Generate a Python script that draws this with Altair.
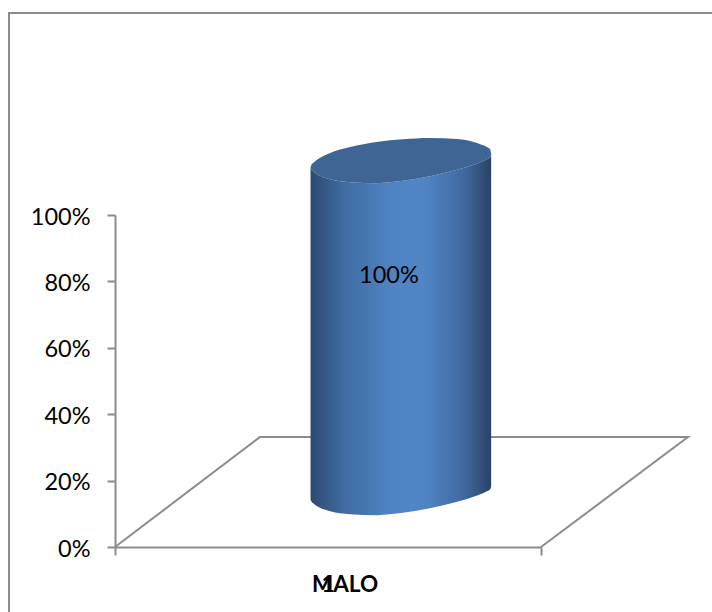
import altair as alt
import pandas as pd

# Chart content
category = "MALO"
series_index = "1"
value = 1.0
y_ticks = [0, 0.2, 0.4, 0.6, 0.8, 1.0]

# Cylinder outline in axis units: horizontal position, front rim and back rim
# of the base ellipse. The top ellipse is the base raised by the value.
rim_x = [0.459, 0.4615, 0.4665, 0.4735, 0.505, 0.552, 0.614, 0.676, 0.739, 0.803, 0.85, 0.862, 0.873, 0.881, 0.883]
rim_front = [0.143, 0.136, 0.130, 0.1235, 0.108, 0.099, 0.096, 0.103, 0.117, 0.136, 0.155, 0.161, 0.168, 0.175, 0.182]
rim_back = [0.143, 0.152, 0.1585, 0.166, 0.187, 0.205, 0.22, 0.228, 0.232, 0.229, 0.217, 0.211, 0.205, 0.197, 0.182]

# Floor of the pseudo-3D plot, behind the front edge drawn by the x axis
floor_x = [0, 0.34, 1.345, 1]
floor_y = [0, 0.331, 0.331, 0]

GREY = "#8c8c8c"
FONT = "Lato"

cyl = pd.DataFrame({
    "x": rim_x,
    "front": rim_front,
    "back": rim_back,
    "top_front": [v + value for v in rim_front],
    "top_back": [v + value for v in rim_back],
})
floor = pd.DataFrame({"x": floor_x, "y": floor_y, "i": range(len(floor_x))})

x_scale = alt.Scale(domain=[0, 1], nice=False, zero=False)
y_scale = alt.Scale(domain=[0, 1], nice=False, zero=False)

# Outer border: only the top and left edges fall inside the page
frame = alt.Chart(pd.DataFrame({"a": [0]})).mark_rect(
    fillOpacity=0, stroke=GREY, strokeWidth=2
).encode(x=alt.value(-106), x2=alt.value(640), y=alt.value(-202), y2=alt.value(460))

axes = alt.Chart(floor).mark_point(opacity=0).encode(
    x=alt.X("x:Q", scale=x_scale, axis=alt.Axis(
        values=[0, 1], labels=False, title=None, grid=False, domainColor=GREY,
        domainWidth=2, tickColor=GREY, tickWidth=2, tickSize=8)),
    y=alt.Y("y:Q", scale=y_scale, axis=alt.Axis(
        values=y_ticks, format=".0%", title=None, grid=False, domainColor=GREY,
        domainWidth=2, tickColor=GREY, tickWidth=2, tickSize=8,
        labelFont=FONT, labelFontSize=23.5, labelColor="black", labelPadding=17,
        labelOffset=2)),
)

floor_line = alt.Chart(floor).mark_line(color=GREY, strokeWidth=2).encode(
    x=alt.X("x:Q", scale=x_scale), y=alt.Y("y:Q", scale=y_scale), order="i:O"
)

body_fill = alt.LinearGradient(
    gradient="linear", x1=0, x2=1, y1=0, y2=0,
    stops=[
        alt.GradientStop(offset=0, color="#2b4a72"),
        alt.GradientStop(offset=0.18, color="#3f6ba0"),
        alt.GradientStop(offset=0.45, color="#4f84c4"),
        alt.GradientStop(offset=0.62, color="#5086c6"),
        alt.GradientStop(offset=0.85, color="#40699f"),
        alt.GradientStop(offset=1, color="#2a4266"),
    ],
)

body = alt.Chart(cyl).mark_area(fill=body_fill, interpolate="monotone").encode(
    x=alt.X("x:Q", scale=x_scale),
    y=alt.Y("top_front:Q", scale=y_scale),
    y2="front:Q",
)

cap = alt.Chart(cyl).mark_area(color="#3e6593", interpolate="monotone").encode(
    x=alt.X("x:Q", scale=x_scale),
    y=alt.Y("top_back:Q", scale=y_scale),
    y2="top_front:Q",
)

value_label = alt.Chart(pd.DataFrame({"x": [0.643], "y": [0.816], "t": [f"{value:.0%}"]})).mark_text(
    font=FONT, fontSize=23.5, color="black"
).encode(x=alt.X("x:Q", scale=x_scale), y=alt.Y("y:Q", scale=y_scale), text="t:N")

# The category name sits right of the axis midpoint, the series index on it
names = pd.DataFrame({"x": [0.54, 0.5], "y": [0, 0], "t": [category, series_index]})
name_label = alt.Chart(names.iloc[[0]]).mark_text(
    font=FONT, fontSize=22.5, fontWeight="bold", color="black", dy=37.5
).encode(x=alt.X("x:Q", scale=x_scale), y=alt.Y("y:Q", scale=y_scale), text="t:N")
index_label = alt.Chart(names.iloc[[1]]).mark_text(
    font=FONT, fontSize=22.5, fontWeight="bold", color="black", dy=37.5
).encode(x=alt.X("x:Q", scale=x_scale), y=alt.Y("y:Q", scale=y_scale), text="t:N")

chart = alt.layer(
    frame, axes, floor_line, body, cap, value_label, name_label, index_label
).properties(
    width=426, height=332,
    padding={"left": 115, "top": 215, "right": 171, "bottom": 65},
    autosize=alt.AutoSizeParams(type="none"),
    background="white",
).configure_view(stroke=None)

chart.save("out.html", embed_options={"renderer": "svg", "actions": False})
